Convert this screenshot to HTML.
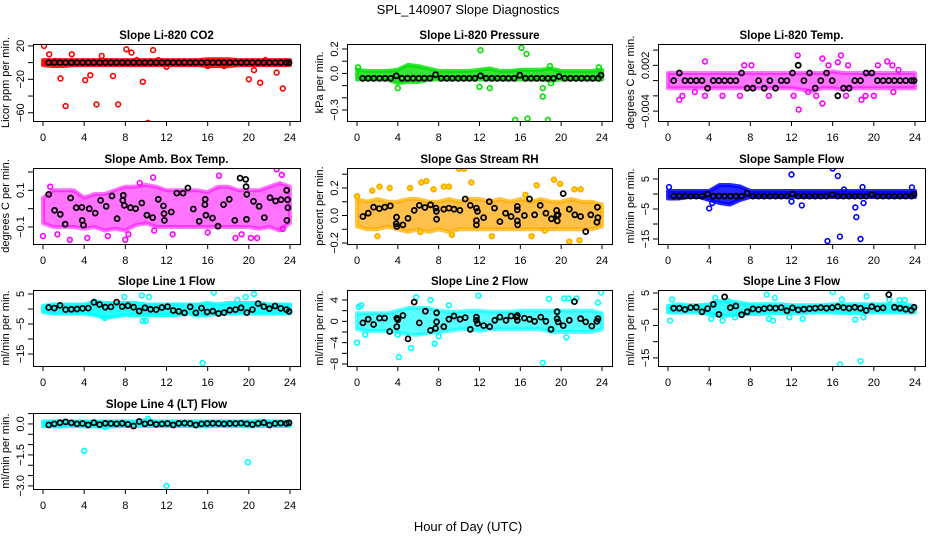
<!DOCTYPE html>
<html><head><meta charset="utf-8">
<style>
html,body{margin:0;padding:0;background:#fff;}
svg{display:block;font-family:"Liberation Sans",Arial,sans-serif;}
</style></head>
<body>
<svg id="chart" xmlns="http://www.w3.org/2000/svg" width="936" height="540" viewBox="0 0 936 540">
<rect x="0" y="0" width="936" height="540" fill="#fff"/>
<text x="468" y="14" text-anchor="middle" font-size="13">SPL_140907  Slope Diagnostics</text>
<text x="468" y="531" text-anchor="middle" font-size="13">Hour of Day (UTC)</text>
<g id="panels"></g>
</svg>
<script>
// ---- data ----
const xTicks = [0,4,8,12,16,20,24];
const bandHours = [0,1,2,3,4,5,6,7,8,9,10,11,12,13,14,15,16,17,18,19,20,21,22,23,24];
const blackHours = [0.55,1.1,1.65,2.2,2.75,3.3,3.85,4.4,4.95,5.5,6.05,6.6,7.15,7.7,8.25,8.8,9.35,9.9,10.45,11,11.55,12.1,12.65,13.2,13.75,14.3,14.85,15.4,15.95,16.5,17.05,17.6,18.15,18.7,19.25,19.8,20.35,20.9,21.45,22,22.55,23.1,23.65,23.9];

// Panel 1: CO2
const co2Lo = [-3,-4,-4,-3,-3,-3,-3,-3,-3,-3,-3,-3,-3,-3,-3,-3,-4,-4,-4,-3,-3,-3,-3,-3,-3];
const co2Hi = [3,3,3,3,3,3,3,3,3,3,3,3,3,3,3,3,4,4,4,3,3,3,3,3,3];
const co2Out = [[0.1,20],[0.6,10],[1.2,2],[1.7,-19],[2.2,-52],[2.8,10],[4.1,-21],[4.6,-15],[5.2,-50],[5.7,8],[6.2,2],[6.8,-16],[7.3,-50],[8.1,16],[8.6,12],[9.1,3],[9.7,-23],[10.2,-72],[10.7,15],[11.2,3],[12,-5],[16,-4],[17.6,-4],[20,-20],[20.5,-9],[21.1,-24],[21.6,3],[22.7,-12],[23.3,-31],[23.6,1]];
const co2Black = [0,0,0,0,0,0,0,0,0,0,0,0,0,0,0,0,0,0,0,0,0,0,0,0,0,0,0,0,0,0,0,0,0,0,0,0,0,0,0,0,0,0,0,0];

// Panel 2: Pressure
const presLo = [-0.05,-0.05,-0.05,-0.05,-0.08,-0.07,-0.07,-0.05,-0.05,-0.05,-0.05,-0.05,-0.05,-0.05,-0.05,-0.05,-0.05,-0.05,-0.05,-0.06,-0.05,-0.05,-0.05,-0.05,-0.05];
const presHi = [0.03,0.02,0.02,0.02,0.03,0.07,0.06,0.04,0.02,0.02,0.02,0.02,0.03,0.04,0.02,0.02,0.03,0.03,0.03,0.04,0.02,0.02,0.02,0.02,0.03];
const presOut = [[0.1,0.05],[4,-0.12],[12,-0.11],[12.1,0.19],[13,-0.12],[15.5,-0.38],[16.1,0.21],[16.6,0.16],[16.7,-0.37],[18.2,-0.12],[18.2,-0.19],[18.7,-0.38],[19,-0.08],[18.9,0.06],[23.7,0.05]];
const presBlack = [-0.04,-0.04,-0.04,-0.04,-0.04,-0.04,-0.02,-0.04,-0.04,-0.04,-0.04,-0.04,-0.04,-0.01,-0.04,-0.04,-0.04,-0.04,-0.04,-0.04,-0.04,-0.02,-0.04,-0.04,-0.04,-0.04,-0.04,-0.04,-0.015,-0.04,-0.04,-0.04,-0.04,-0.04,-0.04,-0.025,-0.04,-0.04,-0.04,-0.04,-0.04,-0.04,-0.04,-0.015];

// Panel 3: Li-820 Temp
const tempLo = [-0.001,-0.001,-0.001,-0.001,-0.001,-0.001,-0.001,-0.001,-0.001,-0.001,-0.001,-0.001,-0.001,-0.0012,-0.0014,-0.001,-0.001,-0.0012,-0.001,-0.001,-0.001,-0.001,-0.001,-0.001,-0.001];
const tempHi = [0.001,0.001,0.001,0.001,0.001,0.001,0.001,0.001,0.001,0.001,0.001,0.001,0.001,0.001,0.001,0.001,0.0012,0.001,0.001,0.001,0.001,0.001,0.001,0.001,0.001];
const tempOut = [[3.6,0.0025],[7.4,0.002],[8.1,0.002],[12.6,0.0033],[15,0.0029],[16.8,0.0033],[15.6,0.002],[16.5,0.0024],[17.5,0.002],[20.4,0.002],[21.3,0.0025],[21.8,0.002],[22.4,0.0014],[12.7,-0.0038],[15,-0.003],[18.8,-0.0025],[1.1,-0.0025],[3.6,-0.002],[5.3,-0.002],[7,-0.002],[9.8,-0.002],[12.2,-0.002],[13.6,-0.0015],[14.4,-0.002],[17.3,-0.002],[19.2,-0.002],[20,-0.002],[21.9,-0.0015],[2.6,-0.0015],[1.4,-0.002]];
const tempBlack = [0,0.001,0,0,0,0,-0.001,0,0,0,0,0,0.001,-0.001,-0.001,0,-0.001,0,-0.001,0,0,0.001,0.002,0,0.001,-0.001,0,0.001,0,-0.002,-0.001,-0.001,0,0,0.001,0.001,0,0,0,0,0,0,0,0];

// Panel 4: Ambient box temp
const ambLo = [-0.08,-0.1,-0.1,-0.1,-0.11,-0.1,-0.12,-0.11,-0.12,-0.09,-0.08,-0.1,-0.1,-0.1,-0.1,-0.1,-0.1,-0.1,-0.1,-0.1,-0.1,-0.11,-0.1,-0.12,-0.08];
const ambHi = [0.06,0.1,0.1,0.1,0.06,0.08,0.08,0.1,0.12,0.12,0.13,0.12,0.1,0.1,0.1,0.1,0.09,0.12,0.12,0.1,0.1,0.1,0.12,0.14,0.12];
const ambOut = [[0,-0.15],[1.4,-0.14],[2.6,-0.17],[10.8,-0.12],[12.6,-0.14],[16,-0.13],[17.1,0.18],[18.7,-0.16],[19.3,-0.14],[20.2,-0.16],[20.8,-0.16],[22.7,0.215],[23.2,0.185],[23.3,-0.11],[8,-0.17],[8.3,-0.14],[9.4,0.14],[10.7,0.17],[0.7,0.12],[4.3,-0.16],[6.3,-0.15]];
const ambBlack = [[0.55,0.078],[1.13,-0.009],[1.68,-0.031],[2.16,-0.085],[2.68,0.058],[3.23,0.005],[3.78,0.007],[3.81,-0.064],[3.94,-0.09],[4.5,0],[5.07,-0.024],[5.6,0.045],[6.14,0.013],[6.7,0.069],[7.2,-0.055],[7.75,0.045],[7.8,0.073],[7.9,0.018],[8.5,0.005],[9.0,0],[9.6,0.031],[10.1,-0.035],[10.66,-0.049],[11.2,0.051],[11.7,0.015],[11.76,-0.027],[11.8,-0.064],[12.47,-0.018],[13.0,0.085],[13.6,0.085],[14.08,0.113],[14.6,-0.002],[15.18,-0.069],[15.73,0.022],[15.76,0.051],[15.83,-0.036],[16.47,-0.051],[17.0,-0.096],[17.54,0.022],[18.1,0.051],[18.64,-0.064],[19.15,0.167],[19.7,0.16],[19.73,0.12],[19.8,0.078],[19.77,-0.058],[20.45,0.04],[21.0,0.013],[21.5,-0.049],[22.06,0.06],[22.6,0.042],[23.13,0.049],[23.68,0.1],[23.77,0.049],[23.8,0.005],[23.7,-0.064]];

// Panel 5: Gas stream RH
const rhLo = [-0.08,-0.1,-0.1,-0.08,-0.1,-0.12,-0.1,-0.12,-0.1,-0.12,-0.1,-0.1,-0.1,-0.1,-0.1,-0.1,-0.1,-0.1,-0.1,-0.1,-0.1,-0.1,-0.1,-0.1,-0.08];
const rhHi = [0.12,0.1,0.12,0.1,0.1,0.12,0.12,0.1,0.1,0.12,0.1,0.12,0.12,0.1,0.12,0.1,0.12,0.1,0.12,0.1,0.1,0.12,0.1,0.1,0.08];
const rhOut = [[0,0.14],[2,-0.15],[2.2,0.21],[3.2,0.2],[5.2,0.2],[6.3,0.24],[6.8,0.25],[7.5,0.19],[8.5,0.21],[9.0,0.21],[10,0.34],[10.5,0.34],[11.2,0.24],[13.2,-0.15],[16.5,0.15],[17.1,-0.15],[17.6,0.22],[19.3,0.26],[19.9,0.23],[20.8,-0.19],[21.3,0.19],[21.9,0.19],[21.8,-0.18],[6.2,-0.12],[9.3,-0.14],[18.4,-0.11],[1.5,0.18]];
const rhBlack = [[0.58,-0.007],[1.1,0.017],[1.63,0.06],[2.18,0.05],[2.72,0.06],[3.26,0.07],[3.87,-0.012],[3.84,-0.06],[3.9,-0.08],[4.5,-0.068],[5.0,-0.02],[5.6,0.037],[6.1,0.073],[6.65,0.058],[7.2,0.078],[7.74,0.054],[7.78,0.03],[7.8,-0.027],[8.5,0.046],[9.0,0.054],[9.5,0.046],[10.08,0.037],[10.6,0.12],[11.1,0.073],[11.7,0.054],[11.7,-0.037],[11.7,-0.068],[11.8,0.03],[12.4,-0.015],[12.96,0.1],[13.47,0.054],[14.0,-0.044],[14.56,0.017],[15.1,-0.007],[15.7,0.066],[15.7,0.041],[15.7,-0.039],[15.74,-0.068],[16.4,0],[16.9,0.12],[17.4,0.005],[17.95,0.073],[18.5,0.017],[19.04,-0.024],[19.55,0.037],[19.58,0],[19.62,-0.039],[19.7,0.005],[20.2,0.159],[20.8,0.046],[21.34,0.005],[21.9,-0.007],[22.4,-0.117],[22.9,0.005],[23.5,-0.049],[23.55,0.06],[23.6,-0.015]];

// Panel 6: Sample flow
const sampLo = [-1.5,-1.5,-1,-1,-2,-3,-3.5,-2,-1,-1,-1,-1,-1,-1,-1,-1,-1,-1,-1,-1,-1,-1,-1,-1,-1];
const sampHi = [1,1,1,1,1,3,3,2.5,1,1,1,1,1,1,1,1,1,1,1,1,1,1,1,1,1];
const sampOut = [[0.1,2.3],[4.0,-4.8],[4.3,-3],[12,6.5],[12,-2.5],[13,-3.8],[15.5,-15.7],[16,8.5],[16.5,6],[16.7,-14.2],[17.1,1.5],[18.2,-4.5],[18.3,-7.7],[18.7,-15],[19,-3],[18.9,2.3],[23.7,2.2]];
const sampBlack = [-0.7,-0.7,-0.7,-0.7,-0.7,-0.7,0,-0.7,-0.7,-0.7,-0.7,-0.7,-0.7,0.3,-0.7,-0.7,-0.7,-0.7,-0.7,-0.7,-0.7,0,-0.7,-0.7,-0.7,-0.7,-0.7,-0.7,-0.3,-0.7,-0.7,-0.7,-0.7,-0.7,-0.7,-0.3,-0.7,-0.7,-0.7,-0.7,-0.7,-0.7,-0.7,0];

// Panel 7: Line 1 flow
const l1Lo = [-1,-1.5,-1.5,-1.5,-1.5,-2,-3,-2.5,-2,-2,-2,-2,-2,-2,-1.5,-2,-2,-1.5,-1.5,-1.5,-1.5,-1.5,-1.5,-1.5,-1.5];
const l1Hi = [1,1.5,1.5,1.5,1.5,2.5,2,2,2,2,1.5,1.5,1.5,1.5,1.5,1.5,2,1.5,2,2,2,2,1.5,1.5,1.5];
const l1Out = [[15.5,-18],[16.6,5.5],[20.5,5],[19.7,4],[9.6,4.5],[10.3,4],[7.9,4],[9.7,-4],[10,-4],[6,-3],[18.9,3],[5,2.5]];
const l1Black = [0.5,0.3,1.2,-0.2,-0.1,0,0.2,0.3,2.2,1.5,0.6,0.7,2.3,0.8,1.1,0.6,-0.7,0.4,-0.1,-0.2,0.5,0.8,-0.5,-0.8,-1.3,0.7,-1.3,0.3,-1.0,-0.7,-1.5,-1.2,-0.4,-0.2,0.4,-1.2,-0.2,1.8,0.8,0.1,1.0,0.2,-0.2,-0.8];

// Panel 8: Line 2 flow
const l2Lo = [-1.5,-1.8,-1.8,-1.8,-2,-2.5,-2.5,-2.2,-2,-1.8,-1.5,-1.5,-1.8,-1.5,-1.5,-1.5,-1.5,-1.5,-1.5,-2,-2,-2,-2,-2,-1.5];
const l2Hi = [1.5,1.5,1.5,1.5,2,2.5,2.5,2.5,2,1.8,1.8,2,2,1.8,1.8,1.8,2,2,2,2,2,2,2,2,1.5];
const l2Out = [[0,-4],[0.2,2.7],[0.4,3],[0.8,-2.5],[4.1,-6.7],[5.3,-5],[5.8,4.5],[7.6,-4.2],[7.2,4],[8,-2.8],[9,3],[11.9,4.8],[18.2,-7.8],[18.8,4.2],[20.3,4.3],[20.7,4.3],[21.5,4.3],[23.6,3.5],[23.9,5.4],[20.5,-3],[4,-2.5]];
const l2Black = [[0.58,-0.3],[1.1,0.4],[1.63,-0.6],[2.2,0.6],[2.7,0.6],[3.2,-1.9],[3.9,0.6],[3.9,-1],[4.0,0.3],[4.5,1.1],[5.0,-3.3],[5.6,3.6],[6.1,-0.3],[6.7,1.9],[7.2,-1.7],[7.7,-1.3],[7.8,1.6],[7.8,-0.1],[8.5,-1],[9.0,0.4],[9.5,1.0],[10.1,0.4],[10.6,0.7],[11.1,-1.5],[11.7,0.8],[11.7,0.2],[11.8,-0.4],[12.4,-0.8],[13,-1],[13.5,0.2],[14,0.8],[14.6,0.2],[15.1,1],[15.6,0.8],[15.7,0.2],[15.7,1.1],[16.4,0.6],[16.9,0.4],[17.4,0],[18,0.8],[18.5,0],[19,-1.5],[19.6,1.8],[19.6,0.5],[19.7,-0.1],[20.2,-0.8],[20.8,0.2],[21.3,3.7],[21.9,0.5],[22.4,-0.1],[23,-0.9],[23.5,0],[23.6,0.5]];

// Panel 9: Line 3 flow
const l3Lo = [-1,-1,-1,-1,-1.5,-2,-2,-1.5,-1.5,-1.5,-1.2,-1.2,-1.2,-1.2,-1,-1,-1,-1.2,-1.2,-1,-1,-1,-1,-1,-1];
const l3Hi = [1,1.5,1.2,1.2,1.5,2.5,2.5,2,1.5,1.5,1.5,1.5,1.2,1.2,1.2,1.2,1.5,1.5,1.5,1.5,1.5,1.5,1.5,1.5,1];
const l3Out = [[0.2,-3.5],[0.4,3],[4.2,-3],[4.6,3.5],[5.3,-3.5],[9.6,4.5],[10.4,3.5],[9.8,-3],[10.2,-3.5],[11.8,-2.5],[13.1,-3],[16,5.3],[16.7,-17],[16.9,3],[18.2,-3.2],[18.7,-16],[19,-2.5],[19.3,4],[21.5,3],[22.5,2.8],[23,2.8],[5.8,2.5],[6.5,-2.5]];
const l3Black = [0.3,0.3,-0.1,0.5,0.6,-0.8,0.2,1.5,-1.6,3.8,0.5,1.0,-1.7,-0.8,0.1,-0.1,0.2,0.4,0.3,0.5,-0.5,0.4,-0.2,0,0.2,0.3,0.5,0.3,0.5,0.8,0.5,0.3,0.6,0.3,-0.4,0.8,0.2,0.4,4.5,0.6,0.3,0,-0.3,0.6];

// Panel 10: Line 4 (LT) flow
const l4Lo = [-0.1,-0.12,-0.12,-0.1,-0.12,-0.12,-0.15,-0.12,-0.1,-0.1,-0.1,-0.1,-0.1,-0.1,-0.1,-0.12,-0.12,-0.1,-0.1,-0.1,-0.12,-0.1,-0.1,-0.1,-0.1];
const l4Hi = [0.12,0.12,0.12,0.12,0.12,0.12,0.12,0.12,0.12,0.12,0.18,0.12,0.12,0.12,0.12,0.12,0.12,0.12,0.12,0.12,0.12,0.15,0.12,0.12,0.12];
const l4Out = [[4,-1.3],[12,-3.0],[19.9,-1.85],[10.2,0.25],[6,-0.15]];
const l4Black = [-0.05,0,0.06,0.1,0.05,0,0.02,-0.05,0.06,-0.03,0.03,0.02,0,0.03,-0.02,-0.1,0.12,0,0.05,-0.02,0,0.02,-0.05,0.03,0.04,0.02,-0.05,0,0.02,0.03,0.02,0,0.02,0.02,0.04,0,-0.03,0.02,0.06,-0.05,0.02,0.04,0.02,0.05];

function toPairs(xs, ys){ return xs.map((x,i)=>[x, ys[i]]); }

// ---- layout ----
const cols = [[33,300],[347,612],[658,925]];
const rows = [[44,121],[168,244],[290,366],[413,489]];
const panels = [
 {name:'co2',title:'Slope Li-820 CO2',ylab:'Licor ppm per min.',c:0,r:0,ymin:-69.9,ymax:22.3,ticks:[20,0,-20,-40,-60],labels:[20,-20,-60],fmt:v=>String(v).replace('-','\u2212'),col:'#ff0000',lo:co2Lo,hi:co2Hi,out:co2Out,black:toPairs(blackHours,co2Black),alpha:0.9},
 {name:'pressure',title:'Slope Li-820 Pressure',ylab:'kPa per min.',c:1,r:0,ymin:-0.39,ymax:0.241,ticks:[0.2,0.1,0,-0.1,-0.2,-0.3],labels:[0.2,0,-0.3],fmt:v=>v.toFixed(1).replace('-','\u2212'),col:'#00e000',lo:presLo,hi:presHi,out:presOut,black:toPairs(blackHours,presBlack),alpha:0.8},
 {name:'li820-temp',title:'Slope Li-820 Temp.',ylab:'degrees C per min.',c:2,r:0,ymin:-0.0053,ymax:0.0048,ticks:[0.004,0.002,0,-0.002,-0.004],labels:[0.002,-0.004],fmt:v=>v.toFixed(3).replace('-','\u2212'),col:'#ff00ff',lo:tempLo,hi:tempHi,out:tempOut,black:toPairs(blackHours,tempBlack),alpha:0.55},
 {name:'amb-box-temp',title:'Slope Amb. Box Temp.',ylab:'degrees C per min.',c:0,r:1,ymin:-0.193,ymax:0.222,ticks:[0.2,0.1,0,-0.1],labels:[0.1,-0.1],fmt:v=>v.toFixed(1).replace('-','\u2212'),col:'#ff00ff',lo:ambLo,hi:ambHi,out:ambOut,black:ambBlack,alpha:0.55},
 {name:'gas-stream-rh',title:'Slope Gas Stream RH',ylab:'percent per min.',c:1,r:1,ymin:-0.207,ymax:0.345,ticks:[0.3,0.2,0.1,0,-0.1,-0.2],labels:[0.2,0,-0.2],fmt:v=>v.toFixed(1).replace('-','\u2212'),col:'#ffa500',col2:'#ffe000',lo:rhLo,hi:rhHi,out:rhOut,black:rhBlack,alpha:0.7},
 {name:'sample-flow',title:'Slope Sample Flow',ylab:'ml/min per min.',c:2,r:1,ymin:-16.67,ymax:8.67,ticks:[5,0,-5,-10,-15],labels:[5,-5,-15],fmt:v=>String(v).replace('-','\u2212'),col:'#0000ff',lo:sampLo,hi:sampHi,out:sampOut,black:toPairs(blackHours,sampBlack),alpha:0.85},
 {name:'line1-flow',title:'Slope Line 1 Flow',ylab:'ml/min per min.',c:0,r:2,ymin:-19,ymax:6.33,ticks:[5,0,-5,-10,-15],labels:[5,-5,-15],fmt:v=>String(v).replace('-','\u2212'),col:'#00ffff',lo:l1Lo,hi:l1Hi,out:l1Out,black:toPairs(blackHours,l1Black),alpha:0.85},
 {name:'line2-flow',title:'Slope Line 2 Flow',ylab:'ml/min per min.',c:1,r:2,ymin:-8.375,ymax:5.875,ticks:[4,2,0,-2,-4,-6,-8],labels:[4,0,-4,-8],fmt:v=>String(v).replace('-','\u2212'),col:'#00ffff',lo:l2Lo,hi:l2Hi,out:l2Out,black:l2Black,alpha:0.65},
 {name:'line3-flow',title:'Slope Line 3 Flow',ylab:'ml/min per min.',c:2,r:2,ymin:-17.5,ymax:5.92,ticks:[5,0,-5,-10,-15],labels:[5,-5,-15],fmt:v=>String(v).replace('-','\u2212'),col:'#00ffff',lo:l3Lo,hi:l3Hi,out:l3Out,black:toPairs(blackHours,l3Black),alpha:0.8},
 {name:'line4-flow',title:'Slope Line 4 (LT) Flow',ylab:'ml/min per min.',c:0,r:3,ymin:-3.15,ymax:0.53,ticks:[0.5,0,-0.5,-1,-1.5,-2,-2.5,-3],labels:[0,-1.5,-3],fmt:v=>v.toFixed(1).replace('-','\u2212'),col:'#00ffff',lo:l4Lo,hi:l4Hi,out:l4Out,black:toPairs(blackHours,l4Black),alpha:0.85}
];

const NS='http://www.w3.org/2000/svg';
const root=document.getElementById('panels');
function mk(tag, attrs, parent){
  const e=document.createElementNS(NS,tag);
  for(const k in attrs) e.setAttribute(k, attrs[k]);
  parent.appendChild(e); return e;
}

panels.forEach(p=>{
  const [L,R]=cols[p.c], [T,B]=rows[p.r];
  const x0=L+10, x1=R-10;
  const sx=h=>x0+(x1-x0)*h/24;
  const sy=v=>B-(B-T)*(v-p.ymin)/(p.ymax-p.ymin);
  const g=mk('g',{},root);
  
  
  const clipId='clip-'+p.name;
  const cp=mk('clipPath',{id:clipId},g);
  mk('rect',{x:L,y:T,width:R-L,height:B-T},cp);
  const plot=mk('g',{'clip-path':'url(#'+clipId+')'},g);

  let d='';
  bandHours.forEach((h,i)=>{ d+=(i?'L':'M')+sx(h).toFixed(1)+','+sy(p.hi[i]).toFixed(1); });
  for(let i=bandHours.length-1;i>=0;i--){ d+='L'+sx(bandHours[i]).toFixed(1)+','+sy(p.lo[i]).toFixed(1); }
  d+='Z';
  const a=p.alpha||1;
  const band=mk('path',{d:d,fill:p.col,stroke:p.col,'stroke-width':4,'stroke-linejoin':'round','fill-opacity':a,'stroke-opacity':a},plot);
  
  
  if(p.col2){
    const b2=mk('path',{d:d,fill:'none',stroke:p.col2,'stroke-width':1,'stroke-dasharray':'2 2'},plot);
    
    
  }
  p.out.forEach(pt=>{
    const c=mk('circle',{cx:sx(pt[0]).toFixed(1),cy:sy(pt[1]).toFixed(1),r:2.4,fill:p.col2?p.col2:'none',stroke:p.col,'stroke-width':1.6},plot);
    
    
  });
  p.black.forEach(pt=>{
    const c=mk('circle',{cx:sx(pt[0]).toFixed(1),cy:sy(pt[1]).toFixed(1),r:2.5,fill:'none',stroke:'#000','stroke-width':1.8},plot);
    
    
  });

  const box=mk('rect',{x:L+0.5,y:T+0.5,width:R-L,height:B-T,fill:'none',stroke:'#000','stroke-width':1},g);
  
  

  const xa=mk('g',{},g);
  
  
  mk('line',{x1:sx(0),y1:B+0.5,x2:sx(24),y2:B+0.5,stroke:'#000'},xa);
  xTicks.forEach(t=>{
    mk('line',{x1:sx(t),y1:B,x2:sx(t),y2:B+5,stroke:'#000'},xa);
    const tx=mk('text',{x:sx(t),y:B+20,'text-anchor':'middle','font-size':11},xa);
    
    
    tx.textContent=t;
  });
  const ya=mk('g',{},g);
  
  
  const tmin=Math.min(...p.ticks), tmax=Math.max(...p.ticks);
  mk('line',{x1:L+0.5,y1:sy(tmin),x2:L+0.5,y2:sy(tmax),stroke:'#000'},ya);
  p.ticks.forEach(t=>{
    mk('line',{x1:L-5,y1:sy(t),x2:L,y2:sy(t),stroke:'#000'},ya);
  });
  p.labels.forEach(t=>{
    const yy=sy(t), xx=L-9;
    const tx=mk('text',{x:xx,y:yy,'text-anchor':'middle','font-size':11,transform:'rotate(-90 '+xx+' '+yy+')'},ya);
    
    
    tx.textContent=p.fmt(t);
  });
  const yl=L-24, ym=(T+B)/2;
  const yt=mk('text',{x:yl,y:ym,'text-anchor':'middle','font-size':11,transform:'rotate(-90 '+yl+' '+ym+')'},g);
  
  
  yt.textContent=p.ylab;
  const tt=mk('text',{x:(L+R)/2,y:T-5,'text-anchor':'middle','font-size':11.5,'font-weight':'bold'},g);
  
  
  tt.textContent=p.title;
});
</script>
</body></html>
